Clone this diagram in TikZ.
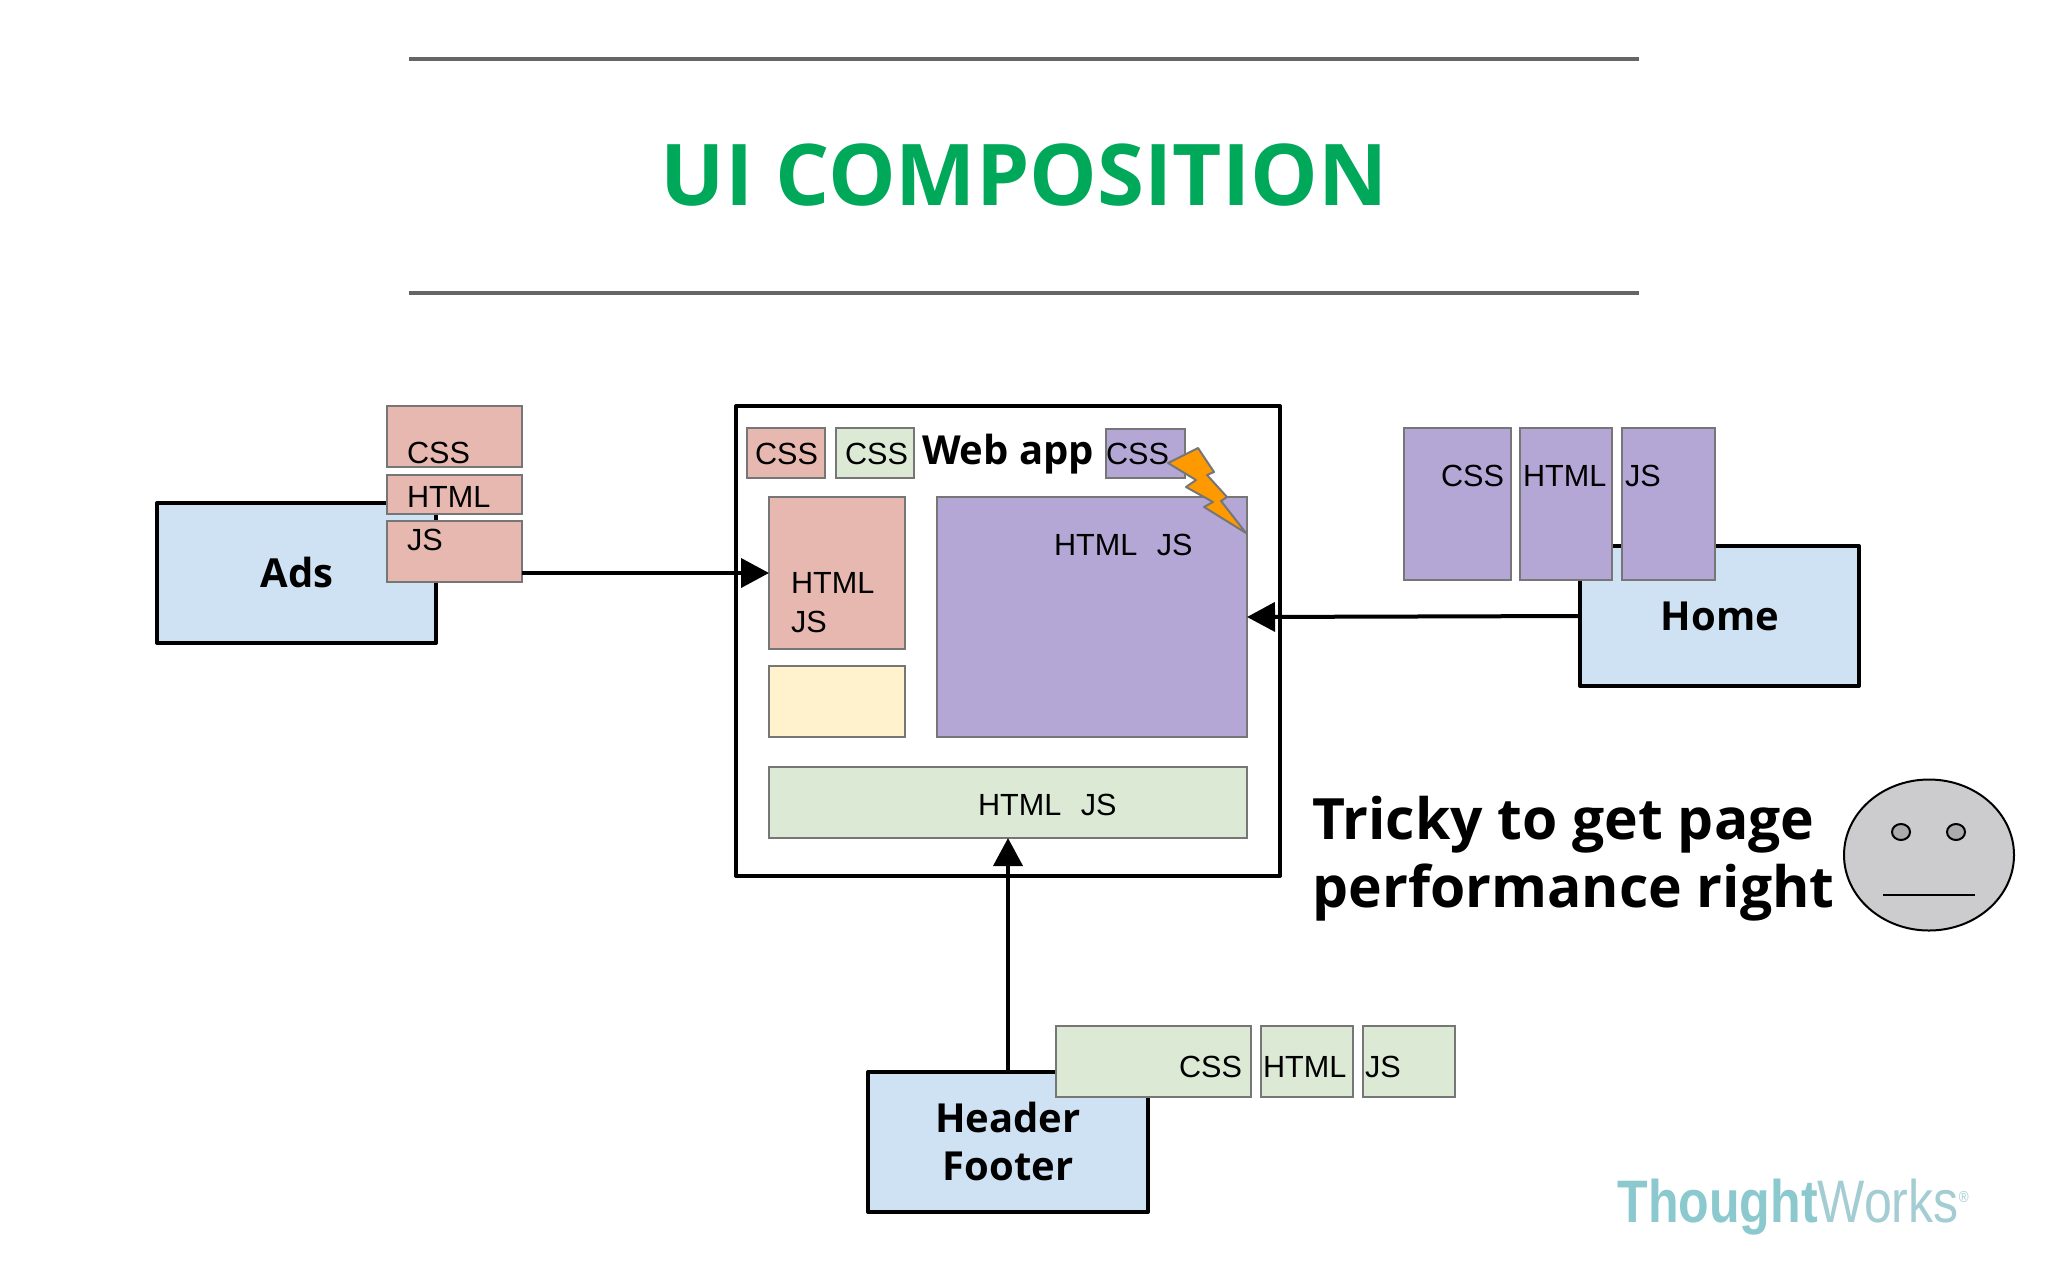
\documentclass[tikz,border=0pt]{standalone}
\usepackage{fontspec}
\setmainfont{Liberation Sans}
\newfontfamily\opensans{Open Sans}
\usetikzlibrary{arrows.meta,shapes.geometric}
\definecolor{titlegreen}{HTML}{00A859}
\definecolor{rulegray}{HTML}{666666}
\definecolor{edgegray}{HTML}{767676}
\definecolor{pinkfill}{HTML}{E6B8AF}
\definecolor{purplefill}{HTML}{B4A7D6}
\definecolor{greenfill}{HTML}{DCE9D4}
\definecolor{bluefill}{HTML}{CFE2F3}
\definecolor{yellowfill}{HTML}{FFF2CC}
\definecolor{boltorange}{HTML}{FF9900}
\definecolor{facegray}{HTML}{CCCBCD}
\definecolor{eyegray}{HTML}{ABABAB}
\definecolor{logoteal}{HTML}{8CC9CF}
\definecolor{logolight}{HTML}{A3CDD2}
\newcommand{\rbox}[6]{% name, style, x1, y1, x2, y2
  \pgfmathsetmacro{\rw}{(#5-#3)*0.5}\pgfmathsetmacro{\rh}{(#6-#4)*0.5}
  \node[#2,minimum width=\rw pt,minimum height=\rh pt] (#1) at ({(#3+#5)/2},{(#4+#6)/2}) {};}
\tikzset{
  x=0.5pt,y=-0.5pt,
  base box/.style={rectangle,inner sep=0pt,outer sep=0pt},
  soft/.style={base box,draw=edgegray,line width=1pt},
  pink/.style={soft,fill=pinkfill},
  purple/.style={soft,fill=purplefill},
  green box/.style={soft,fill=greenfill},
  yellow box/.style={soft,fill=yellowfill},
  service/.style={base box,draw=black,line width=2pt,fill=bluefill,line join=round},
  frame/.style={base box,draw=black,line width=2pt,fill=white,line join=round},
  small/.style={inner sep=0pt,outer sep=0pt,anchor=base west,font=\fontsize{15.3}{19}\selectfont},
  bold label/.style={inner sep=0pt,outer sep=0pt,align=center,font=\opensans\bfseries\fontsize{20}{24}\selectfont},
  rule/.style={draw=rulegray,line width=2pt},
  conn/.style={draw=black,line width=2pt,-{Triangle[length=14pt,width=14.5pt]}},
  face part/.style={draw=black,line width=1pt,ellipse,inner sep=0pt,outer sep=0pt},
}
\begin{document}
\begin{tikzpicture}
\useasboundingbox (0,0) rectangle (2048,1280);
\fill[white] (0,0) rectangle (2048,1280);

% rules and title
\coordinate (r1a) at (409,59); \coordinate (r1b) at (1639,59);
\coordinate (r2a) at (409,293); \coordinate (r2b) at (1639,293);
\draw[rule] (r1a) -- (r1b);
\draw[rule] (r2a) -- (r2b);
\node[inner sep=0pt,text=titlegreen,font=\opensans\bfseries\fontsize{42.6}{50}\selectfont] (title) at (1024,175) {UI COMPOSITION};

% Ads
\rbox{ads}{service}{157}{503}{436}{643}
\node[bold label] (adsL) at (297,572) {Ads};
\rbox{adsCSS}{pink}{387}{406}{522}{467}
\rbox{adsHTML}{pink}{387}{475}{522}{514}
\rbox{adsJS}{pink}{387}{521}{522}{582}
\node[small] (adsCSSL) at (407,463.5) {CSS};
\node[small] (adsHTMLL) at (407,507.5) {HTML};
\node[small] (adsJSL) at (407,550.5) {JS};

% Web app
\rbox{web}{frame}{736}{406}{1280}{876}
\rbox{webCSSa}{pink}{747}{428}{825}{478}
\rbox{webCSSb}{green box}{836}{428}{914}{478}
\rbox{webCSSc}{purple}{1106}{429}{1185}{478}
\node[small] (webCSSaL) at (755,464.5) {CSS};
\node[small] (webCSSbL) at (845,464.5) {CSS};
\node[small] (webCSScL) at (1106,464.5) {CSS};
\node[bold label] (webL) at (1008,454) {Web app};
\rbox{pinkBig}{pink}{769}{497}{905}{649}
\rbox{yellowBig}{yellow box}{769}{666}{905}{737}
\rbox{purpleBig}{purple}{937}{497}{1247}{737}
\rbox{greenBig}{green box}{769}{767}{1247}{838}
\node[small] (pinkL) at (791,593.5) {HTML};
\node[small] (pinkLb) at (791,632) {JS};
\node[small] (purpleL) at (1054,555.5) {HTML\hspace{9.8pt}JS};
\node[small] (greenL) at (978,815.5) {HTML\hspace{9.8pt}JS};

% conflict bolt
\filldraw[fill=boltorange,draw=edgegray,line width=1pt,line join=round]
  (1168,463) -- (1198,448) -- (1214,472) -- (1207,475) -- (1227,497) -- (1221,501)
  -- (1246,533) -- (1204,507) -- (1213,502) -- (1186,487) -- (1196,480) -- cycle;

% Home
\rbox{home}{service}{1580}{546}{1859}{686}
\node[bold label] (homeL) at (1720,616) {Home};
\rbox{homeCSS}{purple}{1404}{428}{1511}{580}
\rbox{homeHTML}{purple}{1520}{428}{1612}{580}
\rbox{homeJS}{purple}{1622}{428}{1715}{580}
\node[small] (homeCSSL) at (1441,486.5) {CSS};
\node[small] (homeHTMLL) at (1523,486.5) {HTML};
\node[small] (homeJSL) at (1625,486.5) {JS};

% Header/Footer
\rbox{hf}{service}{868}{1072}{1148}{1212}
\node[bold label] (hfL) at (1008,1141) {Header\\Footer};
\rbox{hfCSS}{green box}{1056}{1026}{1251}{1097}
\rbox{hfHTML}{green box}{1261}{1026}{1353}{1097}
\rbox{hfJS}{green box}{1363}{1026}{1455}{1097}
\node[small] (hfCSSL) at (1179,1077) {CSS};
\node[small] (hfHTMLL) at (1263,1077) {HTML};
\node[small] (hfJSL) at (1365,1077) {JS};

% connectors
\draw[conn] (adsJS.east |- pinkBig.west) -- (pinkBig.west);
\draw[conn] (home.west) -- (purpleBig.east);
\draw[conn] (hf.north) -- (greenBig.south);

% remark
\node[inner sep=0pt,anchor=west,align=left,font=\opensans\bfseries\fontsize{28.5}{34}\selectfont] (remark) at (1312,859) {Tricky to get page\\performance right};

% face
\node[face part,fill=facegray,minimum width=85pt,minimum height=75.5pt] (face) at (1929,855) {};
\node[face part,fill=eyegray,minimum width=9pt,minimum height=8pt] (eyeL) at (1901,832) {};
\node[face part,fill=eyegray,minimum width=9pt,minimum height=8pt] (eyeR) at (1956,832) {};
\coordinate (m1) at (1883,895); \coordinate (m2) at (1975,895);
\draw[black,line width=1.2pt] (m1) -- (m2);

% logo
\node[inner sep=0pt,anchor=base west,font=\fontsize{30}{34}\selectfont] (logo) at (1617,1222)
  {\scalebox{0.835}[1]{\textcolor{logoteal}{\bfseries Thought}\textcolor{logolight}{Works}\raisebox{10pt}{\textcolor{logolight}{\fontsize{8}{8}\selectfont ®}}}};
\end{tikzpicture}
\end{document}
